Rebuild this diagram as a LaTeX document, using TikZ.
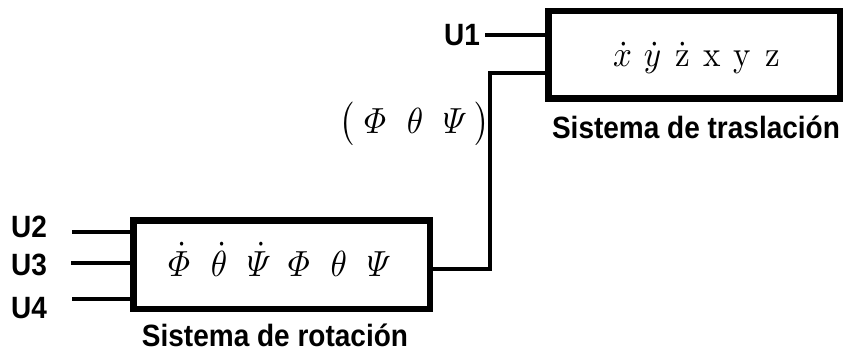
\documentclass[tikz,border=0pt]{standalone}
\usepackage{amsmath}
\usepackage{fontspec}
\newfontfamily\labfont{Liberation Sans}
\begin{document}
\begin{tikzpicture}[x=1pt,y=-1pt,
  blockbox/.style={draw=black, line width=6.5pt, inner sep=0pt, fill=white},
  wire/.style={draw=black, line width=3.5pt, line join=miter},
  lab/.style={inner sep=0pt, anchor=base, font=\labfont\bfseries\fontsize{28}{28}\selectfont},
  mathlab/.style={inner sep=0pt, anchor=base, font=\fontsize{10}{10}\selectfont}]
\useasboundingbox (0,0) rectangle (845,350);
% boxes
\node[blockbox, minimum width=291.5pt, minimum height=87.5pt] (tras) at (694,55) {};
\node[blockbox, minimum width=296.5pt, minimum height=88.5pt] (rot) at (281.5,264.5) {};
% box contents
\newcommand{\cb}[2]{\makebox[#1pt]{$#2$}}
\newcommand{\mscale}[1]{\scalebox{3.3}[3.63]{#1}}
\node[mathlab] (trastxt) at (697.5,67) {\mscale{\cb{9.09}{\dot{x}}\cb{9.09}{\dot{y}}\cb{9.09}{\dot{\mathrm{z}}}\cb{9.09}{\mathrm{x}}\cb{9.09}{\mathrm{y}}\cb{9.09}{\mathrm{z}}}};
\node[mathlab] (rottxt) at (279,276) {\mscale{\cb{12.12}{\dot{\varPhi}}\cb{12.12}{\dot{\theta}}\cb{12.12}{\dot{\varPsi}}\cb{12.12}{\varPhi}\cb{12.12}{\theta}\cb{12.12}{\varPsi}}};
\node[mathlab] (angles) at (415,133) {\mscale{$\bigl($\cb{12.12}{\varPhi}\cb{12.12}{\theta}\cb{12.12}{\varPsi}$\bigr)$}};
% captions
\node[lab] (trascap) at (696,138) {\scalebox{1}[1.1]{Sistema de traslación}};
\node[lab] (rotcap) at (275,346) {\scalebox{1}[1.1]{Sistema de rotación}};
% input labels
\node[lab] (u1) at (462,46) {\scalebox{1}[1.1]{U1}};
\node[lab] (u2) at (29,237) {\scalebox{1}[1.1]{U2}};
\node[lab] (u3) at (29,275) {\scalebox{1}[1.1]{U3}};
\node[lab] (u4) at (29,318) {\scalebox{1}[1.1]{U4}};
% wire ends
\coordinate (c1) at (485,35);
\coordinate (c2) at (72,232);
\coordinate (c3) at (71,263);
\coordinate (c4) at (72,299);
\coordinate (jb) at (490,269);
\coordinate (jt) at (490,73);
% wires
\draw[wire] (c1) -- (c1 -| tras.west);
\draw[wire] (c2) -- (c2 -| rot.west);
\draw[wire] (c3) -- (c3 -| rot.west);
\draw[wire] (c4) -- (c4 -| rot.west);
\draw[wire] (jb -| rot.east) -- (jb) -- (jt) -- (jt -| tras.west);
\end{tikzpicture}
\end{document}
